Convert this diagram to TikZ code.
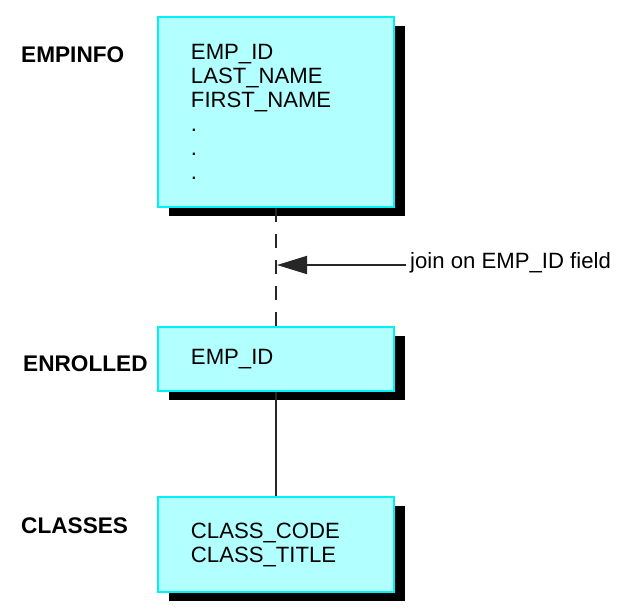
\documentclass[tikz,border=0pt]{standalone}
\usepackage{fontspec}
\setmainfont{Liberation Sans}
\usepackage{xcolor}
\usepackage{tikz}
\usetikzlibrary{arrows.meta}
\usetikzlibrary{shadows}
\definecolor{tablefill}{RGB}{178,255,255}
\definecolor{tableline}{RGB}{0,240,250}
\begin{document}
\begin{tikzpicture}[x=0.03cm,y=-0.03cm]
	\useasboundingbox (0,0) rectangle (625,611);
	\tikzstyle{every node}=[font=\fontsize{18.9}{20.5}\selectfont];
	\tikzstyle{table}=[draw=tableline,line width=1.2pt,fill=tablefill,align=left,text width=5.1cm,inner xsep=0.99cm,drop shadow={shadow xshift=0.33cm,shadow yshift=-0.27cm,opacity=1,fill=black}];
	\tikzstyle{tablename}=[anchor=base west,inner sep=0pt,font=\fontsize{19.3}{20.5}\selectfont\bfseries];
	\tikzstyle{link}=[line width=1.5pt,draw=black!85];
	\node[tablename] (n1) at (21,62) {EMPINFO};
	\node[tablename] (n2) at (23,371) {ENROLLED};
	\node[tablename] (n3) at (21,533) {CLASSES};
	\node[table,minimum height=5.7cm] (empinfo) at (276,112) {EMP\_ID\\LAST\_NAME\\FIRST\_NAME\\.\\.\\.};
	\node[table,minimum height=1.92cm] (enrolled) at (276,359) {EMP\_ID};
	\node[table,minimum height=2.85cm] (classes) at (276,544.5) {CLASS\_CODE\\CLASS\_TITLE};
	\node[anchor=base west,inner xsep=0.12cm] (join) at (406,268) {join on EMP\_ID field};
	\coordinate (tip) at (277,265);
	\draw[link,dash pattern=on 0.42cm off 0.36cm] (empinfo.south) -- (enrolled.north);
	\draw[link] (enrolled.south) -- (classes.north);
	\draw[link,-{Triangle[length=0.9cm,width=0.54cm]}] (tip -| join.west) -- (tip);
\end{tikzpicture}
\end{document}
